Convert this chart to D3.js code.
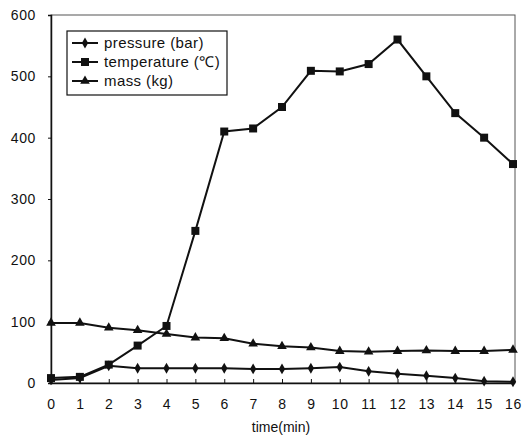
<!DOCTYPE html>
<html>
<head>
<meta charset="utf-8">
<script src="https://cdn.jsdelivr.net/npm/d3@7"></script>
<style>
  body { margin: 0; background: #fff; }
  svg text { font-family: "Liberation Sans", Arial, sans-serif; fill: #111; }
</style>
</head>
<body>
<div id="chart"></div>
<script>
const times = [0, 1, 2, 3, 4, 5, 6, 7, 8, 9, 10, 11, 12, 13, 14, 15, 16];
const pressure = [5, 8, 28, 24, 24, 24, 24, 23, 23, 24, 26, 19, 15, 12, 8, 3, 2];
const temperature = [8, 10, 30, 61, 93, 248, 410, 415, 450, 509, 508, 520, 560, 500, 440, 400, 357];
const mass = [98, 98, 90, 86, 80, 74, 73, 64, 60, 58, 52, 51, 52, 53, 52, 52, 54];
const yTicks = [0, 100, 200, 300, 400, 500, 600];
const seriesNames = ["pressure (bar)", "temperature (\u2103)", "mass (kg)"];

const width = 524, height = 435;
const margin = { top: 15, right: 9, bottom: 52, left: 51 };
const chartWidth = width - margin.left - margin.right;
const chartHeight = height - margin.top - margin.bottom;

const svg = d3.select("#chart").append("svg")
    .attr("width", width)
    .attr("height", height);

const g = svg.append("g")
    .attr("transform", `translate(${margin.left},${margin.top})`);

const xScale = d3.scaleLinear().domain([0, 16]).range([0, chartWidth - 2]);
const yScale = d3.scaleLinear().domain([0, 600]).range([chartHeight, 0]);

// frame
g.append("rect")
    .attr("x", 0).attr("y", 0)
    .attr("width", chartWidth).attr("height", chartHeight)
    .attr("fill", "none")
    .attr("stroke", "#555")
    .attr("stroke-width", 1);

// axes
const xAxis = d3.axisBottom(xScale).tickValues(times).tickSize(-4).tickPadding(16);
const yAxis = d3.axisLeft(yScale).tickValues(yTicks).tickSize(3).tickPadding(12);

const xg = g.append("g").attr("transform", `translate(0,${chartHeight})`).call(xAxis);
const yg = g.append("g").call(yAxis);
[xg, yg].forEach(a => {
    a.select(".domain").attr("stroke", "#111").attr("stroke-width", 1.5);
    a.selectAll(".tick line").attr("stroke", "#111");
    a.selectAll("text").style("font-size", "14px").style("letter-spacing", "0.6px").attr("fill", "#111");
});

g.append("text")
    .attr("x", chartWidth / 2 - 2)
    .attr("y", chartHeight + 49)
    .attr("text-anchor", "middle")
    .style("font-size", "14px")
    .text("time(min)");

const symbols = [d3.symbolDiamond, d3.symbolSquare, d3.symbolTriangle];
const symSizes = [34, 64, 40];
const allSeries = [pressure, temperature, mass];

const line = d3.line()
    .x((d, i) => xScale(times[i]))
    .y(d => yScale(d));

allSeries.forEach((vals, k) => {
    g.append("path")
        .datum(vals)
        .attr("d", line)
        .attr("fill", "none")
        .attr("stroke", "#111")
        .attr("stroke-width", 2);
    g.selectAll(".pt" + k)
        .data(vals)
        .enter()
        .append("path")
        .attr("class", "pt" + k)
        .attr("transform", (d, i) => `translate(${xScale(times[i])},${yScale(d)})`)
        .attr("d", d3.symbol().type(symbols[k]).size(symSizes[k]))
        .attr("fill", "#111");
});

// legend
const legend = g.append("g").attr("transform", "translate(16,16)");
legend.append("rect")
    .attr("width", 160).attr("height", 64)
    .attr("fill", "#fff")
    .attr("stroke", "#111")
    .attr("stroke-width", 1.2);
seriesNames.forEach((name, k) => {
    const ly = 12 + k * 19;
    legend.append("line")
        .attr("x1", 5).attr("x2", 31)
        .attr("y1", ly).attr("y2", ly)
        .attr("stroke", "#111").attr("stroke-width", 2);
    legend.append("path")
        .attr("transform", `translate(18,${ly})`)
        .attr("d", d3.symbol().type(symbols[k]).size(symSizes[k]))
        .attr("fill", "#111");
    legend.append("text")
        .attr("x", 37).attr("y", ly + 5)
        .style("font-size", "15px")
        .style("letter-spacing", "0.4px")
        .text(name);
});
</script>
</body>
</html>
